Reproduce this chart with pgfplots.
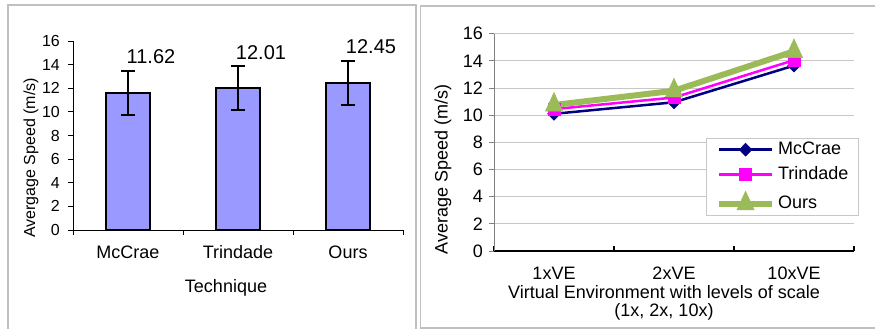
\documentclass[border=0pt]{standalone}
\usepackage{fontspec}
\setmainfont{Liberation Sans}
\usepackage{pgfplots}
\usepackage{pgfplotstable}
\pgfplotsset{compat=1.18}
\pgfplotsset{/pgf/number format/assume math mode=true}
\definecolor{barfill}{HTML}{9999FF}
\definecolor{navyline}{HTML}{000080}
\definecolor{pinkline}{HTML}{FF00FF}
\definecolor{oursgreen}{HTML}{9BBB59}
\definecolor{gridgray}{HTML}{C8C8C8}
\definecolor{framegray}{HTML}{C0C0C0}
\newcommand{\fs}[1]{\fontsize{#1}{#1}\selectfont}

\pgfplotstableread{
x y e label
0 11.62 1.88 11.62
1 12.01 1.86 12.01
2 12.45 1.88 12.45
}\bardata

\pgfplotstableread{
x mccrae trindade ours
0 10.10 10.45 10.75
1 10.95 11.30 11.80
2 13.65 14.05 14.70
}\linedata

\begin{document}
\begin{tikzpicture}
\useasboundingbox (0pt,0pt) rectangle (875pt,329pt);
\clip (0pt,0pt) rectangle (875pt,329pt);
% panel frames
\draw[framegray, line width=2pt] (8pt,-10pt) -- (8pt,324pt) -- (416pt,324pt) -- (416pt,-10pt);
\draw[framegray, line width=1.2pt] (890pt,1pt) -- (420.5pt,1pt) -- (420.5pt,323pt) -- (890pt,323pt);

% ---------- left: bar chart ----------
\begin{axis}[
  at={(73pt,99pt)}, anchor=south west,
  scale only axis, width=330pt, height=189pt,
  xmin=-0.5, xmax=2.5, ymin=0, ymax=16,
  axis x line=bottom, axis y line=left,
  axis line style={-, black, line width=0.8pt},
  tick align=outside, major tick length=5pt,
  tick style={black, line width=0.8pt},
  ytick={0,2,...,16},
  yticklabel style={font=\fs{16}, anchor=east, inner sep=0pt, xshift=-8pt},
  xtick={-0.5,0.5,1.5,2.5}, xticklabels={},
  extra x ticks={0,1,2}, extra x tick labels={McCrae,Trindade,Ours},
  extra x tick style={major tick length=0pt},
  xticklabel style={font=\fs{18}, anchor=center, yshift=-22pt},
  ylabel={Avergage Speed (m/s)},
  ylabel style={font=\fs{16}, at={(axis description cs:-0.127,0.381)}, anchor=center},
  xlabel={Technique},
  xlabel style={font=\fs{18}, at={(axis description cs:0.5,0)}, anchor=center, yshift=-58pt, xshift=-12pt},
]
\addplot[ybar, bar width=44pt, fill=barfill, draw=black, line width=2pt,
  nodes near coords, point meta=explicit symbolic,
  every node near coord/.append style={font=\fs{20}, anchor=center, xshift=23pt, yshift=36pt},
  error bars/.cd, y dir=both, y explicit,
  error bar style={line width=2pt, black},
  error mark options={rotate=90, mark size=7pt, line width=2pt, black}]
  table[x=x, y=y, y error=e, meta=label]{\bardata};
\end{axis}

% ---------- right: line chart ----------
\begin{axis}[
  at={(494pt,78pt)}, anchor=south west,
  scale only axis, width=360pt, height=217.3pt,
  xmin=-0.5, xmax=2.5, ymin=0, ymax=16,
  axis x line=bottom, axis y line=left,
  axis line style={-},
  x axis line style={black, line width=2pt},
  y axis line style={gray, line width=0.8pt},
  ymajorgrids, grid style={gridgray, line width=0.8pt},
  xtick align=inside, ytick align=outside, major tick length=5pt,
  ytick={0,2,...,16},
  y tick style={gray, line width=0.8pt},
  x tick style={black, line width=1.5pt},
  yticklabel style={font=\fs{18}, anchor=east, inner sep=0pt, xshift=-6pt},
  xtick={-0.5,0.5,1.5,2.5}, xticklabels={},
  extra x ticks={0,1,2}, extra x tick labels={1xVE,2xVE,10xVE},
  extra x tick style={major tick length=0pt},
  xticklabel style={font=\fs{18}, anchor=center, yshift=-22pt},
  ylabel={Average Speed (m/s)},
  ylabel style={font=\fs{18}, at={(axis description cs:-0.142,0.375)}, anchor=center},
  xlabel={Virtual Environment with levels of scale\\(1x, 2x, 10x)},
  xlabel style={font=\fs{18}, align=center, at={(axis description cs:0.5,0)}, anchor=center, yshift=-52pt, xshift=-10pt},
  legend style={at={(axis description cs:0.588,0.521)}, anchor=north west,
    draw=gridgray, line width=0.8pt, fill=white, font=\fs{18},
    inner xsep=10pt, inner ysep=3pt, row sep=8pt, column sep=3pt,
    nodes={inner sep=0pt, text height=13pt, text depth=4pt},
    cells={anchor=west}},
  legend image code/.code={\draw[mark repeat=2,mark phase=2,#1] plot coordinates {(0pt,0pt) (26.5pt,0pt) (53pt,0pt)};},
]
\addplot[navyline, line width=2.5pt, mark=diamond*, mark size=6.5pt,
  mark options={fill=navyline, draw=navyline, line width=0.5pt, xscale=1.3}]
  table[x=x, y=mccrae]{\linedata};
\addlegendentry{McCrae}
\addplot[pinkline, line width=2.5pt, mark=square*, mark size=6pt,
  mark options={fill=pinkline, draw=pinkline, line width=0.5pt}]
  table[x=x, y=trindade]{\linedata};
\addlegendentry{Trindade}
\addplot[oursgreen, line width=6pt, mark=triangle*, mark size=10pt,
  mark options={fill=oursgreen, draw=oursgreen, line width=0.5pt, yscale=1.25}]
  table[x=x, y=ours]{\linedata};
\addlegendentry{Ours}
\end{axis}
\end{tikzpicture}
\end{document}
